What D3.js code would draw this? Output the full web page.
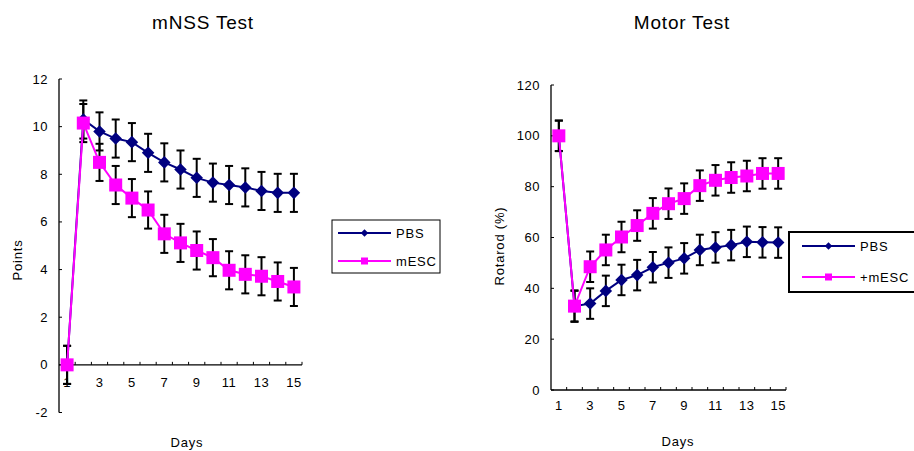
<!DOCTYPE html>
<html>
<head>
<meta charset="utf-8">
<script src="https://cdn.jsdelivr.net/npm/d3@7"></script>
<style>
body { margin: 0; background: #fff; }
text { font-family: "Liberation Sans", Arial, sans-serif; fill: #000; }
</style>
</head>
<body>
<script>
var width = 914, height = 451;

var days = d3.range(1, 16);

// mNSS test
var mnssPBS  = [0, 10.3, 9.8, 9.5, 9.35, 8.9, 8.5, 8.2, 7.85, 7.65, 7.55, 7.45, 7.3, 7.22, 7.22];
var mnssESC  = [0, 10.15, 8.5, 7.55, 7.0, 6.5, 5.5, 5.12, 4.8, 4.5, 3.97, 3.8, 3.72, 3.5, 3.27];
var mnssErrPBS = [0.8, 0.8, 0.8, 0.8, 0.8, 0.8, 0.8, 0.8, 0.8, 0.8, 0.8, 0.8, 0.8, 0.8, 0.8];
var mnssErrESC = [0.8, 0.8, 0.78, 0.8, 0.8, 0.78, 0.8, 0.8, 0.8, 0.78, 0.8, 0.8, 0.8, 0.8, 0.8];
var mnssTicks = [-2, 0, 2, 4, 6, 8, 10, 12];

// motor test
var motorPBS = [100, 33, 34, 39, 43.3, 45.2, 48.3, 50.1, 51.8, 55.1, 56.1, 57, 58.3, 58.1, 58];
var motorESC = [100, 33, 48.5, 55.1, 60.2, 64.7, 69.5, 73.3, 75.3, 80.4, 82.5, 83.6, 84.2, 85.2, 85.2];
var motorErrPBS = [6, 6.2, 6, 6, 6, 6, 6, 6, 6, 6, 6, 6, 6, 6, 6];
var motorErrESC = [6, 6, 6, 6, 6, 6, 6, 6, 6, 6, 6, 6, 6, 6, 6];
var motorTicks = [0, 20, 40, 60, 80, 100, 120];

var dayLabels = ["1", "3", "5", "7", "9", "11", "13", "15"];

var svg = d3.select("body").append("svg")
  .attr("width", width)
  .attr("height", height);

function drawChart(c) {
  var g = svg.append("g");

  var x = d3.scaleBand().domain(days).range([c.left, c.right]);
  var y = d3.scaleLinear().domain(c.domain).range([c.bottom, c.top]);
  var cx = function(i) { return x(days[i]) + x.bandwidth() / 2; };

  // title
  g.append("text")
    .attr("x", c.titleX).attr("y", 29)
    .attr("text-anchor", "middle")
    .style("font-size", "19px")
    .style("letter-spacing", "0.8px")
    .text(c.title);

  // y axis
  g.append("line")
    .attr("x1", c.left).attr("x2", c.left)
    .attr("y1", y(c.domain[1])).attr("y2", y(c.domain[0]))
    .attr("stroke", "#000").attr("stroke-width", 1.3);
  g.selectAll(".ytick").data(c.ticks).enter().append("line")
    .attr("x1", c.left).attr("x2", c.left + 3)
    .attr("y1", function(d) { return y(d); })
    .attr("y2", function(d) { return y(d); })
    .attr("stroke", "#000");
  g.selectAll(".ylab").data(c.ticks).enter().append("text")
    .attr("x", c.left - 11)
    .attr("y", function(d) { return y(d) + 4.5; })
    .attr("text-anchor", "end")
    .style("font-size", "13px")
    .style("letter-spacing", "0.5px")
    .text(function(d) { return d; });

  // x axis at zero
  var y0 = y(0);
  g.append("line")
    .attr("x1", c.left).attr("x2", c.right)
    .attr("y1", y0).attr("y2", y0)
    .attr("stroke", "#000").attr("stroke-width", 1.3);
  g.selectAll(".xtick").data(days).enter().append("line")
    .attr("x1", function(d) { return x(d) + x.bandwidth(); })
    .attr("x2", function(d) { return x(d) + x.bandwidth(); })
    .attr("y1", y0).attr("y2", y0 - 3)
    .attr("stroke", "#000");
  g.selectAll(".xlab").data(dayLabels).enter().append("text")
    .attr("x", function(d) { return x(+d) + x.bandwidth() / 2; })
    .attr("y", c.xLabelY)
    .attr("text-anchor", "middle")
    .style("font-size", "13px")
    .style("letter-spacing", "0.5px")
    .text(function(d) { return d; });

  // axis titles
  g.append("text")
    .attr("x", c.xTitleX).attr("y", c.xTitleY)
    .attr("text-anchor", "middle")
    .style("font-size", "13px")
    .style("letter-spacing", "0.8px")
    .text("Days");
  g.append("text")
    .attr("transform", "translate(" + c.yTitleX + "," + c.yTitleY + ")rotate(-90)")
    .attr("text-anchor", "middle")
    .style("font-size", "13px")
    .style("letter-spacing", "0.8px")
    .text(c.yTitle);

  var line = d3.line()
    .x(function(d, i) { return cx(i); })
    .y(function(d) { return y(d); });

  // error bars
  [[c.pbs, c.errPbs], [c.esc, c.errEsc]].forEach(function(s) {
    var eg = g.append("g").attr("stroke", "#000").attr("stroke-width", 2).attr("fill", "none");
    s[0].forEach(function(v, i) {
      var t = y(v + s[1][i]), b = y(v - s[1][i]), xx = cx(i);
      eg.append("line").attr("x1", xx).attr("x2", xx).attr("y1", t).attr("y2", b);
      eg.append("line").attr("x1", xx - 4).attr("x2", xx + 4).attr("y1", t).attr("y2", t);
      eg.append("line").attr("x1", xx - 4).attr("x2", xx + 4).attr("y1", b).attr("y2", b);
    });
  });

  // PBS series
  g.append("path").datum(c.pbs)
    .attr("d", line).attr("fill", "none")
    .attr("stroke", "#000080").attr("stroke-width", 2);
  g.selectAll(".dia").data(c.pbs).enter().append("path")
    .attr("d", d3.symbol().type(d3.symbolDiamond2).size(100))
    .attr("transform", function(d, i) { return "translate(" + cx(i) + "," + y(d) + ")"; })
    .attr("fill", "#000080");

  // mESC series
  g.append("path").datum(c.esc)
    .attr("d", line).attr("fill", "none")
    .attr("stroke", "#ff00ff").attr("stroke-width", 2);
  g.selectAll(".sq").data(c.esc).enter().append("rect")
    .attr("x", function(d, i) { return cx(i) - 6.5; })
    .attr("y", function(d) { return y(d) - 6.5; })
    .attr("width", 13).attr("height", 13)
    .attr("fill", "#ff00ff");

  // legend
  var L = c.legend;
  g.append("rect")
    .attr("x", L.x).attr("y", L.y).attr("width", L.w).attr("height", L.h)
    .attr("fill", "#fff").attr("stroke", "#000").attr("stroke-width", L.sw);
  [["PBS", "#000080", "diamond", L.y1], [c.escLabel, "#ff00ff", "square", L.y2]].forEach(function(e) {
    g.append("line")
      .attr("x1", L.lx1).attr("x2", L.lx2).attr("y1", e[3]).attr("y2", e[3])
      .attr("stroke", e[1]).attr("stroke-width", 2);
    var mx = (L.lx1 + L.lx2) / 2;
    if (e[2] === "diamond") {
      g.append("path")
        .attr("d", d3.symbol().type(d3.symbolDiamond2).size(36))
        .attr("transform", "translate(" + mx + "," + e[3] + ")")
        .attr("fill", e[1]);
    } else {
      g.append("rect")
        .attr("x", mx - 3.5).attr("y", e[3] - 3.5).attr("width", 7).attr("height", 7)
        .attr("fill", e[1]);
    }
    g.append("text")
      .attr("x", L.lx2 + 5).attr("y", e[3] + 5)
      .style("font-size", "13px")
      .style("letter-spacing", "0.8px")
      .text(e[0]);
  });
}

drawChart({
  title: "mNSS Test", titleX: 203,
  left: 59, right: 302, top: 79, bottom: 412.5,
  domain: [-2, 12], ticks: mnssTicks,
  xLabelY: 387, xTitleX: 187, xTitleY: 447,
  yTitle: "Points", yTitleX: 22, yTitleY: 260,
  pbs: mnssPBS, esc: mnssESC, errPbs: mnssErrPBS, errEsc: mnssErrESC,
  escLabel: "mESC",
  legend: { x: 332, y: 220, w: 108, h: 53, sw: 1, lx1: 338, lx2: 391, y1: 233, y2: 261 }
});

drawChart({
  title: "Motor Test", titleX: 682,
  left: 551, right: 786, top: 85, bottom: 390,
  domain: [0, 120], ticks: motorTicks,
  xLabelY: 410, xTitleX: 678, xTitleY: 446,
  yTitle: "Rotarod (%)", yTitleX: 504, yTitleY: 246,
  pbs: motorPBS, esc: motorESC, errPbs: motorErrPBS, errEsc: motorErrESC,
  escLabel: "+mESC",
  legend: { x: 789, y: 232, w: 140, h: 60, sw: 2, lx1: 802, lx2: 855, y1: 246, y2: 277 }
});
</script>
</body>
</html>
